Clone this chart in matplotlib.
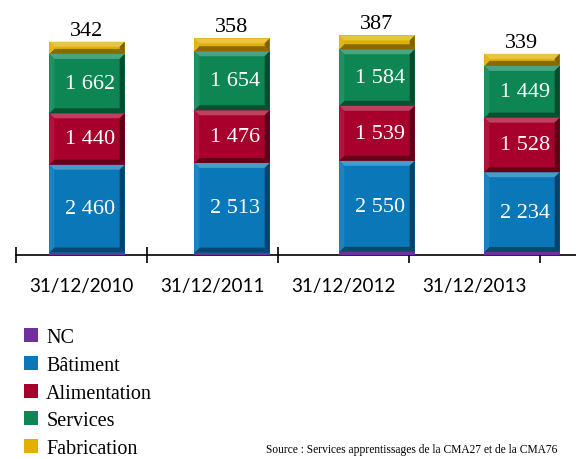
import matplotlib.pyplot as plt
from matplotlib.patches import Polygon
from matplotlib.colors import to_rgb
import numpy as np

years = ["31/12/2010", "31/12/2011", "31/12/2012", "31/12/2013"]
series = ["NC", "Bâtiment", "Alimentation", "Services", "Fabrication"]
nc = [70, 65, 90, 85]
batiment = [2460, 2513, 2550, 2234]
alimentation = [1440, 1476, 1539, 1528]
services = [1662, 1654, 1584, 1449]
fabrication = [342, 358, 387, 339]

colors = ["#7030A0", "#0A78B8", "#A8002C", "#0E8654", "#E2B000"]

plt.rcParams["font.serif"] = ["Liberation Serif", "DejaVu Serif"]
SERIF = "serif"
SANS = "Lato"


def shade(c, f):
    r = np.array(to_rgb(c))
    if f > 0:
        return tuple(r + (1 - r) * f)
    return tuple(r * (1 + f))


fig = plt.figure(figsize=(5.76, 4.6), dpi=100)

# category axis (line, ticks, dates)
axc = fig.add_axes([0, 204 / 460, 1, 256 / 460])
axc.set_xlim(-16 / 131, 560 / 131)
axc.set_ylim(0, 1)
axc.patch.set_visible(False)
for s in ["top", "left", "right"]:
    axc.spines[s].set_visible(False)
axc.spines["bottom"].set_bounds(0, 560 / 131)
axc.spines["bottom"].set_linewidth(1.2)
axc.set_yticks([])
axc.set_xticks(range(len(years) + 1))
axc.set_xticklabels([])
axc.tick_params(axis="x", which="major", direction="inout", length=12, width=1.2)
axc.set_xticks(np.arange(len(years)) + 0.5, minor=True)
axc.set_xticklabels(years, minor=True, fontsize=13.5, family=SANS)
axc.tick_params(axis="x", which="minor", length=0, pad=16)

# stacked bars
ax = fig.add_axes([0, 204 / 460, 1, 256 / 460])
ax.set_xlim(-87 / 145, 489 / 145)
ax.set_ylim(0, 7170)
ax.axis("off")

x = np.arange(len(years))
width = 0.52
bx = 5 / 145
by = 5 * 7170 / 256
data = [nc, batiment, alimentation, services, fabrication]
bottom = np.zeros(len(years))
handles = []
for name, vals, col in zip(series, data, colors):
    bars = ax.bar(x, vals, width, bottom=bottom, color=col, label=name, zorder=2)
    handles.append(bars)
    for rect in bars:
        x0, y0 = rect.get_x(), rect.get_y()
        x1, y1 = x0 + rect.get_width(), y0 + rect.get_height()
        if rect.get_height() < 2.2 * by:
            continue
        bevels = [
            ([(x0, y1), (x1, y1), (x1 - bx, y1 - by), (x0 + bx, y1 - by)], 0.25),
            ([(x0, y0), (x1, y0), (x1 - bx, y0 + by), (x0 + bx, y0 + by)], -0.4),
            ([(x0, y0), (x0 + bx, y0 + by), (x0 + bx, y1 - by), (x0, y1)], 0.08),
            ([(x1, y0), (x1 - bx, y0 + by), (x1 - bx, y1 - by), (x1, y1)], -0.45),
        ]
        for pts, f in bevels:
            ax.add_patch(Polygon(pts, closed=True, facecolor=shade(col, f),
                                 edgecolor="none", zorder=3))
    bottom += np.array(vals)


def fmt(v):
    return f"{v:,}".replace(",", " ")


# values inside the segments
cum = np.array(nc, dtype=float)
for vals in [batiment, alimentation, services]:
    for i, v in enumerate(vals):
        ax.text(x[i] + 0.02, cum[i] + v / 2, fmt(v), ha="center", va="center",
                color="white", fontsize=16, family=SERIF, zorder=4)
    cum += np.array(vals)

# Fabrication values above the bars
for i, v in enumerate(fabrication):
    ax.text(x[i], cum[i] + v + 60, fmt(v), ha="center", va="bottom",
            color="black", fontsize=16, family=SERIF, zorder=4)

leg = fig.legend(handles=handles, labels=series, loc="upper left",
                 bbox_to_anchor=(16 / 576, 1 - 321 / 460), frameon=False,
                 prop={"family": SERIF, "size": 14.5}, handlelength=0.7,
                 handleheight=0.7, handletextpad=0.4, labelspacing=0.43,
                 borderaxespad=0)

fig.text(266 / 576, 1 - 453 / 460,
         "Source : Services apprentissages de la CMA27 et de la CMA76",
         fontsize=8.3, family=SERIF, ha="left", va="baseline")

fig.savefig("out.png", dpi=100)
